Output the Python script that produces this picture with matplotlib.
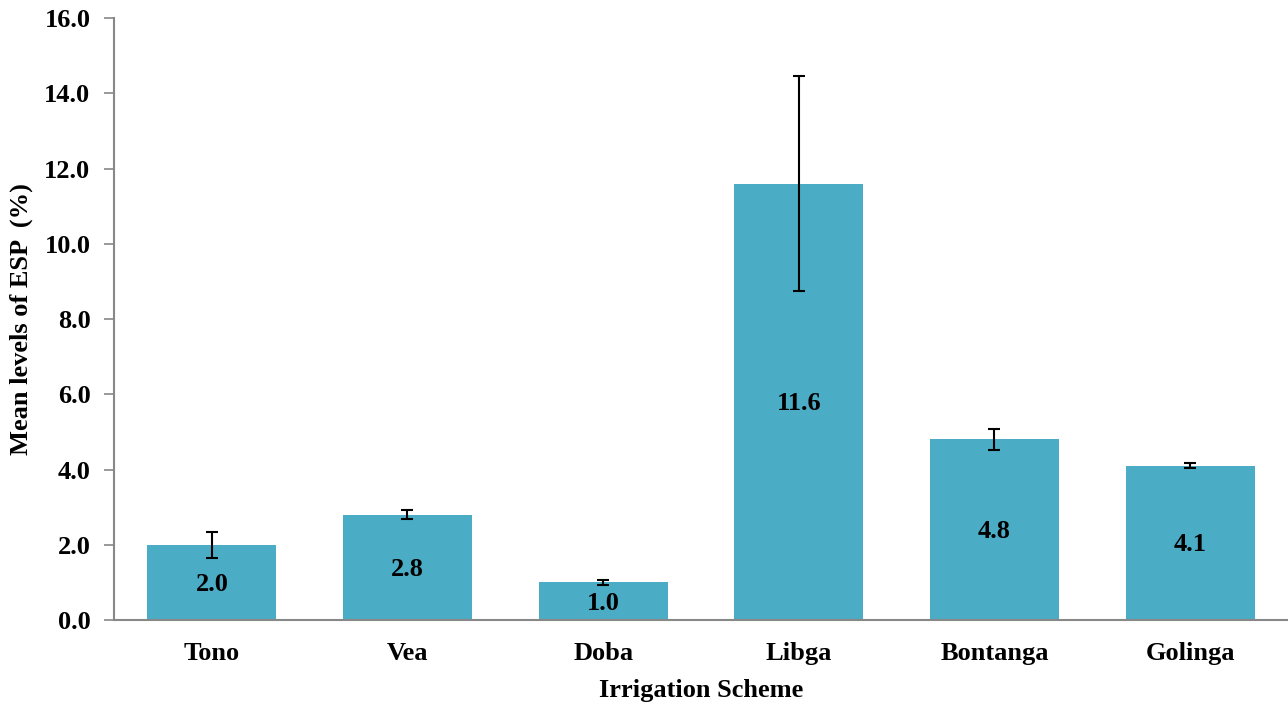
import matplotlib.pyplot as plt
import numpy as np

# Data
schemes = ['Tono', 'Vea', 'Doba', 'Libga', 'Bontanga', 'Golinga']
esp_mean = [2.0, 2.8, 1.0, 11.6, 4.8, 4.1]
esp_err = [0.34, 0.12, 0.06, 2.85, 0.29, 0.07]

plt.rcParams['font.family'] = ['Liberation Serif', 'DejaVu Serif']
plt.rcParams['font.weight'] = 'bold'

fig = plt.figure(figsize=(12.88, 7.04), dpi=100)
ax = fig.add_axes([0.0885, 0.1193, 0.9115, 0.8551])

x = np.arange(len(schemes))
ax.bar(x, esp_mean, width=0.66, color='#4BACC6', zorder=2)
ax.errorbar(x, esp_mean, yerr=esp_err, fmt='none', ecolor='black',
            elinewidth=1.5, capsize=4.5, capthick=1.5, zorder=3)

# value labels in middle of bars
for xi, v in zip(x, esp_mean):
    ax.text(xi, v / 2 - 0.05, f'{v:.1f}', ha='center', va='center',
            fontsize=19, fontweight='bold', zorder=4)

ax.set_xlim(-0.5, 5.5)
ax.set_ylim(0, 16)
ax.set_yticks(np.arange(0, 16.1, 2))
ax.set_yticklabels([f'{t:.1f}' for t in np.arange(0, 16.1, 2)])
ax.set_xticks(x)
ax.set_xticklabels(schemes)
ax.tick_params(axis='x', length=0, labelsize=19, pad=16)
ax.tick_params(axis='y', length=7, color='#888888', labelsize=19, width=1.2, pad=10)

for s in ['top', 'right']:
    ax.spines[s].set_visible(False)
for s in ['left', 'bottom']:
    ax.spines[s].set_color('#888888')
    ax.spines[s].set_linewidth(1.5)

ax.set_xlabel('Irrigation Scheme', fontsize=19, fontweight='bold', labelpad=10)
ax.set_ylabel('Mean levels of ESP  (%)', fontsize=19, fontweight='bold')
ax.yaxis.set_label_coords(-0.069, 0.5)

fig.savefig('out.png', dpi=100)
